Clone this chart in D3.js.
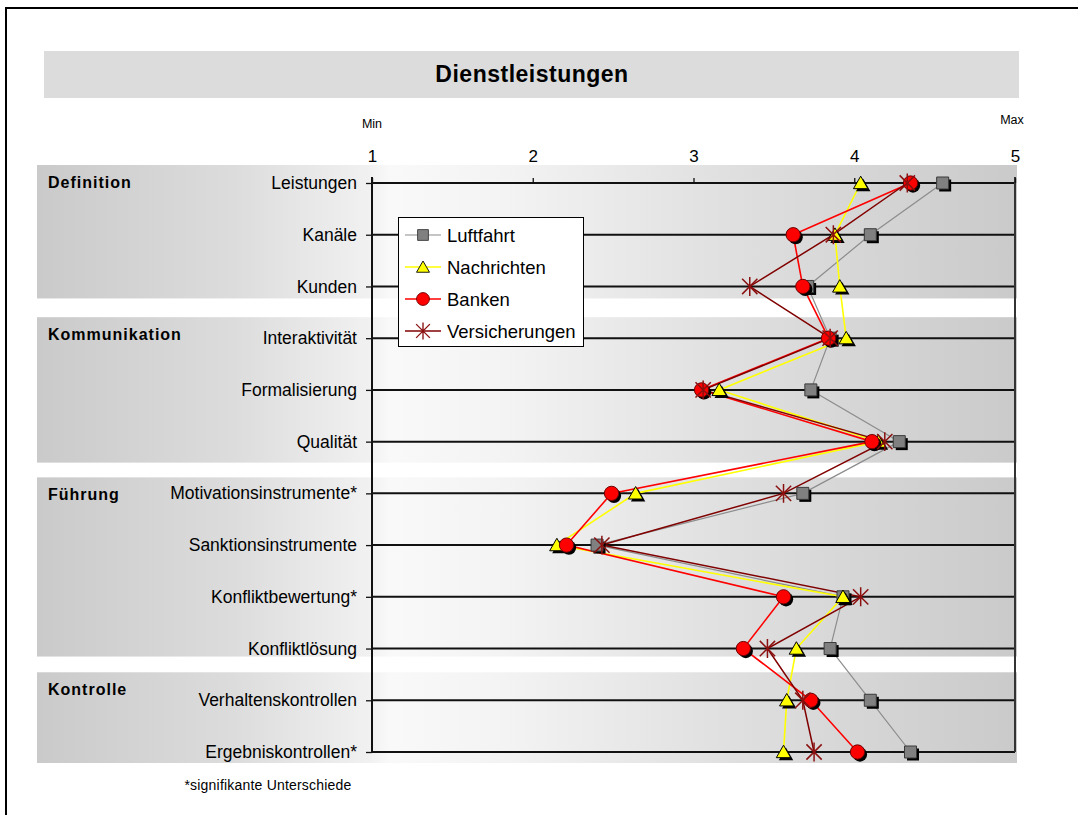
<!DOCTYPE html>
<html>
<head>
<meta charset="utf-8">
<script src="https://cdn.jsdelivr.net/npm/d3@7"></script>
<style>
  body { margin: 0; background: #fff; }
  svg { display: block; }
  text { font-family: "Liberation Sans", Arial, Helvetica, sans-serif; fill: #000; }
</style>
</head>
<body>
<svg id="chart" width="1078" height="815"></svg>
<script>
// ---- data -------------------------------------------------------------
const categories = [
  "Leistungen", "Kanäle", "Kunden",
  "Interaktivität", "Formalisierung", "Qualität",
  "Motivationsinstrumente*", "Sanktionsinstrumente", "Konfliktbewertung*", "Konfliktlösung",
  "Verhaltenskontrollen", "Ergebniskontrollen*"
];
const groups = ["Definition", "Kommunikation", "Führung", "Kontrolle"];
const groupSizes = [3, 3, 4, 2];
const seriesNames = ["Luftfahrt", "Nachrichten", "Banken", "Versicherungen"];
const luftfahrt      = [4.55, 4.10, 3.71, 3.85, 3.73, 4.28, 3.68, 2.40, 3.93, 3.85, 4.10, 4.35];
const nachrichten    = [4.04, 3.88, 3.91, 3.95, 3.16, 4.15, 2.64, 2.15, 3.93, 3.64, 3.58, 3.56];
const banken         = [4.35, 3.62, 3.68, 3.84, 3.05, 4.11, 2.49, 2.21, 3.56, 3.31, 3.73, 4.02];
const versicherungen = [4.33, 3.87, 3.35, 3.85, 3.06, 4.19, 3.56, 2.43, 4.04, 3.46, 3.68, 3.75];
const xTicks = [1, 2, 3, 4, 5];
const titleText = "Dienstleistungen";
const minLabel = "Min";
const maxLabel = "Max";
const footnote = "*signifikante Unterschiede";

// ---- setup ------------------------------------------------------------
const svg = d3.select("#chart");
const x = d3.scaleLinear().domain([1, 5]).range([372, 1015]);
const y = d3.scalePoint().domain(categories).range([183, 752]);

const series = [
  { name: seriesNames[0], values: luftfahrt,      line: "#8c8c8c", lw: 1.2, marker: "square" },
  { name: seriesNames[1], values: nachrichten,    line: "#ffff00", lw: 1.6, marker: "triangle" },
  { name: seriesNames[2], values: banken,         line: "#ff0000", lw: 1.6, marker: "circle" },
  { name: seriesNames[3], values: versicherungen, line: "#800000", lw: 1.5, marker: "star" }
];

// outer frame (runs past the right and bottom edges)
svg.append("rect").attr("x", 6).attr("y", 8).attr("width", 1200).attr("height", 900)
  .attr("fill", "none").attr("stroke", "#000").attr("stroke-width", 2);

// title bar
svg.append("rect").attr("x", 44).attr("y", 51).attr("width", 975).attr("height", 47).attr("fill", "#dcdcdc");
svg.append("text").attr("x", 532).attr("y", 82).attr("text-anchor", "middle")
  .style("font-size", "23px").style("font-weight", "bold").style("letter-spacing", "0.5px")
  .text(titleText);

// band gradient
const defs = svg.append("defs");
const grad = defs.append("linearGradient").attr("id", "bandGrad")
  .attr("gradientUnits", "userSpaceOnUse").attr("x1", 37).attr("x2", 1017).attr("y1", 0).attr("y2", 0);
[[0, "#cacaca"], [0.2, "#dcdcdc"], [0.34, "#f1f1f1"], [0.36, "#f9f9f9"], [0.48, "#f3f3f3"],
 [0.7, "#e0e0e0"], [1, "#cacaca"]].forEach(([o, c]) =>
  grad.append("stop").attr("offset", o).attr("stop-color", c));

// group bands and their labels
const bandPad = [[18, 12], [21, 21], [16, 8], [28, 11]];
let start = 0;
groups.forEach((g, i) => {
  const first = categories[start];
  const last = categories[start + groupSizes[i] - 1];
  const top = y(first) - bandPad[i][0];
  const bottom = y(last) + bandPad[i][1];
  svg.append("rect").attr("x", 37).attr("y", top).attr("width", 980).attr("height", bottom - top)
    .attr("fill", "url(#bandGrad)");
  svg.append("text").attr("x", 48).attr("y", top + 23)
    .style("font-size", "16px").style("font-weight", "bold").style("letter-spacing", "1px")
    .text(g);
  start += groupSizes[i];
});

// horizontal grid lines
svg.append("g").selectAll("line").data(categories).join("line")
  .attr("x1", x(1)).attr("x2", x(5)).attr("y1", d => y(d)).attr("y2", d => y(d))
  .attr("stroke", "#111").attr("stroke-width", 2);

// vertical boundary lines
svg.append("line").attr("x1", x(1)).attr("x2", x(1)).attr("y1", 177).attr("y2", y(categories[categories.length - 1]))
  .attr("stroke", "#111").attr("stroke-width", 2);
svg.append("line").attr("x1", x(5)).attr("x2", x(5)).attr("y1", 177).attr("y2", y(categories[categories.length - 1]))
  .attr("stroke", "#333").attr("stroke-width", 2);

// top value axis
const topAxis = svg.append("g").attr("transform", `translate(0,${y(categories[0])})`)
  .call(d3.axisTop(x).tickValues(xTicks).tickFormat(d3.format("d")).tickSize(5).tickPadding(16));
topAxis.select(".domain").remove();
topAxis.selectAll(".tick line").attr("stroke", "#111").attr("stroke-width", 1.3);
topAxis.selectAll(".tick text").style("font-size", "17px").attr("fill", "#000")
  .style("font-family", '"Liberation Sans", Arial, sans-serif');

svg.append("text").attr("x", x(1)).attr("y", 128).attr("text-anchor", "middle").style("font-size", "12.5px").text(minLabel);
svg.append("text").attr("x", x(5) - 3).attr("y", 124).attr("text-anchor", "middle").style("font-size", "12.5px").text(maxLabel);

// category axis
const leftAxis = svg.append("g").attr("transform", `translate(${x(1)},0)`)
  .call(d3.axisLeft(y).tickSize(6).tickPadding(9));
leftAxis.select(".domain").remove();
leftAxis.selectAll(".tick line").attr("stroke", "#111").attr("stroke-width", 1.3);
leftAxis.selectAll(".tick text").style("font-size", "17.5px").attr("fill", "#111")
  .style("font-family", '"Liberation Sans", Arial, sans-serif');

// footnote
svg.append("text").attr("x", 268).attr("y", 790).attr("text-anchor", "middle")
  .style("font-size", "14px").style("letter-spacing", "0.2px").text(footnote);

// ---- series -----------------------------------------------------------
const lineGen = d3.line().x(d => x(d.v)).y(d => y(d.c));
series.forEach(s => {
  const pts = s.values.map((v, i) => ({ v, c: categories[i] }));
  svg.append("path").datum(pts).attr("d", lineGen)
    .attr("fill", "none").attr("stroke", s.line).attr("stroke-width", s.lw);
});

const symSquare = d3.symbol().type(d3.symbolSquare).size(144);
const symTri = d3.symbol().type(d3.symbolTriangle).size(90);
const symCircle = d3.symbol().type(d3.symbolCircle).size(160);
function starPath(r) {
  const p = d3.path();
  p.moveTo(-r * 0.85, -r * 0.85); p.lineTo(r * 0.85, r * 0.85);
  p.moveTo(r * 0.85, -r * 0.85); p.lineTo(-r * 0.85, r * 0.85);
  p.moveTo(0, -r * 1.05); p.lineTo(0, r * 1.05);
  return p.toString();
}

function drawMarker(g, type, cx, cy, shadow, scale) {
  const k = scale || 1;
  const t = `translate(${cx},${cy}) scale(${k})`;
  if (type === "star") {
    g.append("path").attr("transform", t).attr("d", starPath(9))
      .attr("fill", "none").attr("stroke", "#8b1010").attr("stroke-width", 1.5);
    return;
  }
  let d, fill, stroke;
  if (type === "square") { d = symSquare(); fill = "#808080"; stroke = "#3a3a3a"; }
  if (type === "triangle") { d = symTri(); fill = "#ffff00"; stroke = "#000"; }
  if (type === "circle") { d = symCircle(); fill = "#ff0000"; stroke = "#6a0000"; }
  const dy = type === "triangle" ? 1.5 : 0;
  const tt = `translate(${cx},${cy + dy}) scale(${k})`;
  if (shadow) {
    g.append("path").attr("transform", `translate(${cx + 2.5},${cy + dy + 2.5}) scale(${k})`).attr("d", d).attr("fill", "#000");
  }
  g.append("path").attr("transform", tt).attr("d", d)
    .attr("fill", fill).attr("stroke", stroke).attr("stroke-width", 1);
}

const markers = svg.append("g");
series.forEach(s => {
  s.values.forEach((v, i) => drawMarker(markers, s.marker, x(v), y(categories[i]), true));
});

// ---- legend -----------------------------------------------------------
const legend = svg.append("g").attr("transform", "translate(398,217)");
legend.append("rect").attr("x", 0.5).attr("y", 0.5).attr("width", 185).attr("height", 129)
  .attr("fill", "#fff").attr("stroke", "#000").attr("stroke-width", 1);
series.forEach((s, i) => {
  const cy = 18 + i * 32;
  legend.append("line").attr("x1", 7).attr("x2", 43).attr("y1", cy).attr("y2", cy)
    .attr("stroke", s.line).attr("stroke-width", s.lw);
  drawMarker(legend, s.marker, 25, cy, false, 0.9);
  legend.append("text").attr("x", 49).attr("y", cy + 6.5).style("font-size", "18.5px").text(s.name);
});
</script>
</body>
</html>
